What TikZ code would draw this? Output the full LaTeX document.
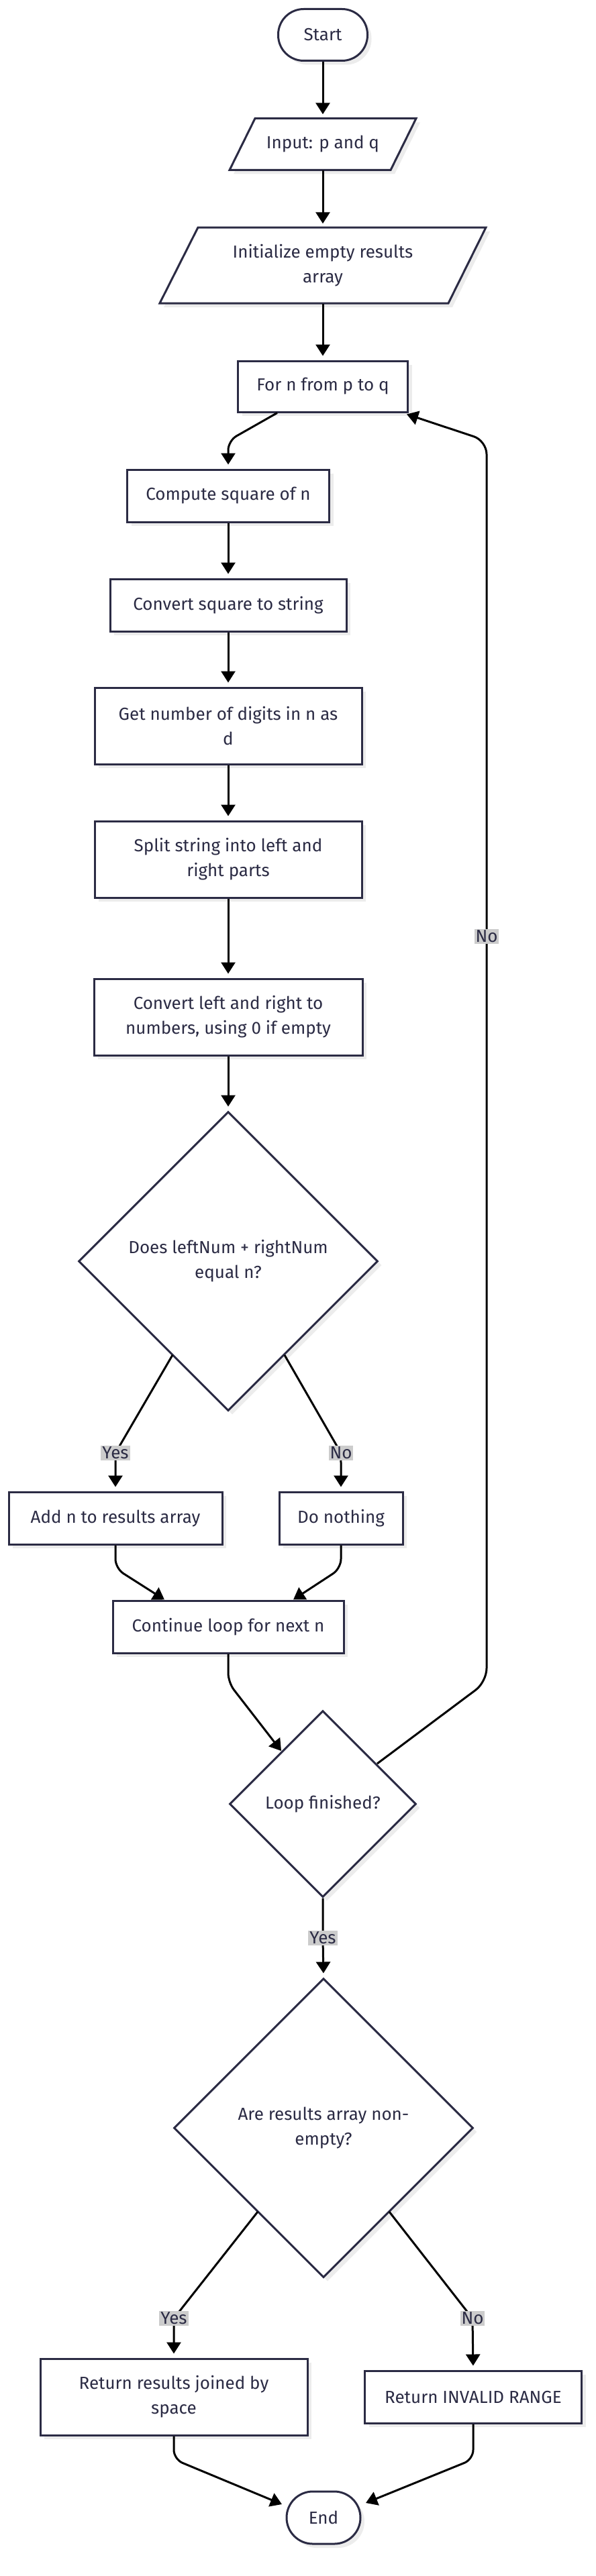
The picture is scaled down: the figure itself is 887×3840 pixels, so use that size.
\documentclass[tikz,border=0pt]{standalone}
\usepackage{fontspec}
\setmainfont{Fira Sans}
\usetikzlibrary{shapes.geometric,arrows.meta,shadows,calc}
\definecolor{ink}{HTML}{2B2B44}
\definecolor{lblbg}{HTML}{CCCCCC}
\definecolor{shd}{HTML}{ECECEC}
\begin{document}
\begin{tikzpicture}[x=1pt,y=-1pt,
  every node/.style={font=\fontsize{26}{37}\selectfont, text=ink},
  shad/.style={drop shadow={shadow xshift=6pt, shadow yshift=-6pt, fill=shd, opacity=1}},
  box/.style={rectangle, draw=ink, line width=3pt, fill=white, align=center, inner sep=0pt, shad},
  term/.style={box, rounded corners=#1},
  dia/.style={diamond, draw=ink, line width=3pt, fill=white, align=center, inner sep=0pt, aspect=1, minimum width=#1, minimum height=#1, shad},
  ptext/.style={rectangle, align=center, inner sep=0pt},
  pshape/.style={draw=ink, line width=3pt, fill=white},
  pshadow/.style={fill=shd},
  lbl/.style={fill=lblbg, inner sep=2pt, text=ink},
  edge/.style={draw=black, line width=3pt, -{Triangle[length=17pt,width=21pt]}, rounded corners=14pt},
  vedge/.style={edge, shorten >=6pt}
]
\useasboundingbox (0,0) rectangle (887,3840);

% Start
\node[term=38pt, minimum width=133pt, minimum height=77pt] (start) at (481,52) {Start};

% Input parallelogram
\fill[pshadow] (386,182.5) -- (626,182.5) -- (588,259.5) -- (348,259.5) -- cycle;
\draw[pshape] (380,176.5) -- (620,176.5) -- (582,253.5) -- (342,253.5) -- cycle;
\node[ptext, minimum width=240pt, minimum height=77pt] (inp) at (481,215) {Input: p and q};

% Initialize parallelogram
\fill[pshadow] (301,345) -- (730,345) -- (674,458) -- (244,458) -- cycle;
\draw[pshape] (295,339) -- (724,339) -- (668,452) -- (238,452) -- cycle;
\node[ptext, minimum width=430pt, minimum height=113pt] (ini) at (481,396) {Initialize empty results\\array};

\node[box, minimum width=253pt, minimum height=76pt] (forn) at (481,576) {For n from p to q};
\node[box, minimum width=301pt, minimum height=78pt] (comp) at (340,739) {Compute square of n};
\node[box, minimum width=352pt, minimum height=78pt] (conv) at (340,902) {Convert square to string};
\node[box, minimum width=398pt, minimum height=114pt] (getn) at (340,1082) {Get number of digits in n as\\d};
\node[box, minimum width=398pt, minimum height=114pt] (split) at (340,1281) {Split string into left and\\right parts};
\node[box, minimum width=400pt, minimum height=114pt] (convlr) at (340,1516) {Convert left and right to\\numbers, using 0 if empty};
\node[dia=446pt] (d1) at (340,1880) {Does leftNum + rightNum\\equal n?};
\node[box, minimum width=318pt, minimum height=78pt] (addn) at (172,2263) {Add n to results array};
\node[box, minimum width=184pt, minimum height=78pt] (dn) at (508,2263) {Do nothing};
\node[box, minimum width=344pt, minimum height=78pt] (cont) at (340,2425) {Continue loop for next n};
\node[dia=278pt] (loop) at (481,2689) {Loop finished?};
\node[dia=446pt] (res) at (482,3172) {Are results array non-\\empty?};
\node[box, minimum width=398pt, minimum height=114pt] (retres) at (259,3573) {Return results joined by\\space};
\node[box, minimum width=323pt, minimum height=78pt] (inval) at (705,3573) {Return INVALID RANGE};
\node[term=39pt, minimum width=110pt, minimum height=78pt] (endn) at (482,3753) {End};

% bend points
\coordinate (b0) at (340,657);
\coordinate (y1) at (172,2166);
\coordinate (n1) at (508,2166);
\coordinate (b1) at (172,2338);
\coordinate (b2) at (508,2338);
\coordinate (b3) at (340,2508);
\coordinate (nb1) at (725,2507);
\coordinate (nb2) at (725,657);
\coordinate (y2) at (481,2889);
\coordinate (y3) at (259,3456);
\coordinate (n3) at (704,3456);
\coordinate (b4) at (259,3666);
\coordinate (b5) at (705,3666);

% edges
\draw[vedge] (start) -- (inp);
\draw[vedge] (inp) -- (ini);
\draw[vedge] (ini) -- (forn);
\draw[vedge] ($(forn.south)+(-68,0)$) -- (b0) -- (comp.north);
\draw[vedge] (comp) -- (conv);
\draw[vedge] (conv) -- (getn);
\draw[vedge] (getn) -- (split);
\draw[vedge] (split) -- (convlr);
\draw[vedge] (convlr) -- (d1);
\draw[vedge] ($(d1.center)+(-83,140)$) -- (y1) -- (addn.north);
\draw[vedge] ($(d1.center)+(84,140)$) -- (n1) -- (dn.north);
\draw[edge] (addn.south) -- (b1) -- ($(cont.north)+(-95,0)$);
\draw[edge] (dn.south) -- (b2) -- ($(cont.north)+(97,0)$);
\draw[edge] (cont.south) -- (b3) -- ($(loop.center)+(-62,-79)$);
\draw[edge, rounded corners=20pt] ($(loop.center)+(81,-60)$) -- (nb1) -- (nb2) -- ($(forn.south east)+(-3,2)$);
\draw[vedge] (loop.south) -- (y2) -- (res.north);
\draw[vedge] ($(res.center)+(-98,125)$) -- (y3) -- (retres.north);
\draw[vedge] ($(res.center)+(98,125)$) -- (n3) -- (inval.north);
\draw[edge] (retres.south) -- (b4) -- ($(endn.center)+(-62,-20)$);
\draw[edge] (inval.south) -- (b5) -- ($(endn.center)+(63,-22)$);

% labels
\node[lbl] (ly1) at (y1) {Yes};
\node[lbl] (ln1) at (n1) {No};
\node[lbl] (lno) at (725,1396) {No};
\node[lbl] (ly2) at (y2) {Yes};
\node[lbl] (ly3) at (y3) {Yes};
\node[lbl] (ln3) at (n3) {No};
\end{tikzpicture}
\end{document}
